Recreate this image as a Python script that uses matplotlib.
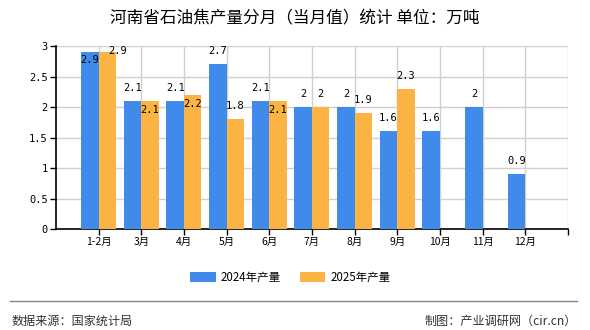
import matplotlib.pyplot as plt
import numpy as np

plt.rcParams['font.family'] = ['Noto Sans CJK SC', 'DejaVu Sans']

months = ['1-2月', '3月', '4月', '5月', '6月', '7月', '8月', '9月', '10月', '11月', '12月']
output_2024 = [2.9, 2.1, 2.1, 2.7, 2.1, 2, 2, 1.6, 1.6, 2, 0.9]
output_2025 = [2.9, 2.1, 2.2, 1.8, 2.1, 2, 1.9, 2.3]
yticks = [0, 0.5, 1, 1.5, 2, 2.5, 3]
ytick_labels = ['0', '0.5', '1', '1.5', '2', '2.5', '3']

blue = '#3F8AEB'
orange = '#FBB443'
mono = ['DejaVu Sans Mono']

fig = plt.figure(figsize=(5.9, 3.3), dpi=100)
ax = fig.add_axes([0.0949, 0.306, 0.8678, 0.5546])

x = np.arange(len(months))
w = 0.41
b1 = ax.bar(x[:len(output_2024)] - w / 2, output_2024, w, color=blue, label='2024年产量', zorder=3)
b2 = ax.bar(x[:len(output_2025)] + w / 2, output_2025, w, color=orange, label='2025年产量', zorder=3)


def fmt(v):
    return ('%g' % v)


def clash(a, b):
    # two long labels at nearly the same height would overlap
    return abs(a - b) < 0.15 and len(fmt(a)) > 1 and len(fmt(b)) > 1


# value labels: above the bar, unless the neighbouring label would collide
for i, v in enumerate(output_2024):
    xi = x[i] - w / 2
    other = output_2025[i] if i < len(output_2025) else None
    if other is not None and clash(v, other) and v > 2.6:
        off = (0, -6)
    else:
        off = (0, 9.4)
    ax.annotate(fmt(v), (xi, v), xytext=off, textcoords='offset points',
                ha='center', va='center', fontsize=7.5, family=mono, zorder=4)

for i, v in enumerate(output_2025):
    xi = x[i] + w / 2
    if clash(v, output_2024[i]):
        off = (7, 1) if v > 2.6 else (0, -6.5)
    else:
        off = (0, 9.4)
    ax.annotate(fmt(v), (xi, v), xytext=off, textcoords='offset points',
                ha='center', va='center', fontsize=7.5, family=mono, zorder=4)

ax.set_xlim(-1, 11)
ax.set_ylim(0, 3)
ax.set_xticks(np.arange(0, 12))
ax.set_xticklabels(months + [''], fontsize=7.5)
ax.set_yticks(yticks)
ax.set_yticklabels(ytick_labels, fontsize=7.5, family=mono)
ax.tick_params(axis='both', length=4, width=1, color='black', pad=2)
ax.grid(True, color='#D0D0D0', linewidth=1, zorder=0)
for s in ['top', 'right']:
    ax.spines[s].set_visible(False)
for s in ['left', 'bottom']:
    ax.spines[s].set_linewidth(1.2)
    ax.spines[s].set_color('black')

fig.text(0.5, 0.942, '河南省石油焦产量分月（当月值）统计 单位：万吨', ha='center', va='center', fontsize=12)

fig.legend(handles=[b1, b2], loc='center', bbox_to_anchor=(0.492, 0.16), ncol=2, frameon=False,
           fontsize=8.3, handlelength=2.2, handleheight=0.9, columnspacing=1.6, handletextpad=0.45)

fig.add_artist(plt.Line2D([0.017, 0.978], [0.088, 0.088], color='#888888', linewidth=1, transform=fig.transFigure))
fig.text(0.02, 0.027, '数据来源：国家统计局', ha='left', va='center', fontsize=8.7, color='#333333')
fig.text(0.978, 0.027, '制图：产业调研网（cir.cn）', ha='right', va='center', fontsize=8.7, color='#333333')

fig.savefig('out.png', dpi=100)
